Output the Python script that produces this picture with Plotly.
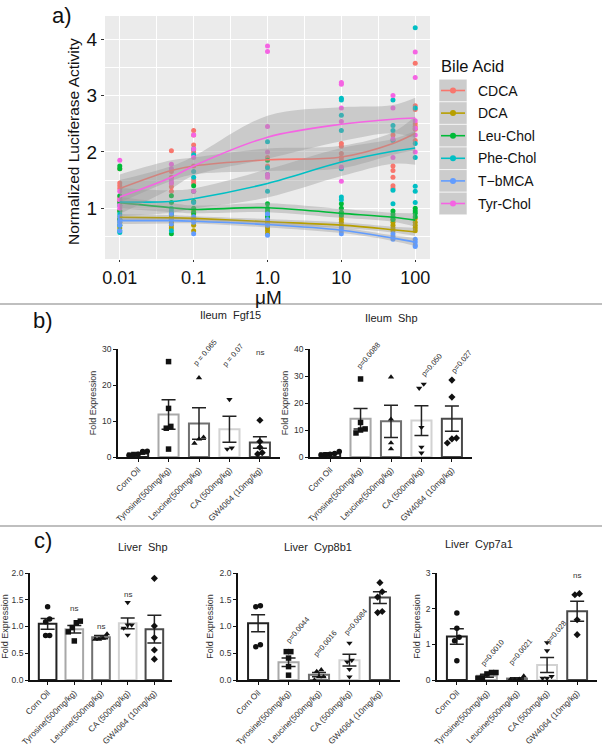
import plotly.graph_objects as go

W, H = 602, 750
FONT = 'Liberation Sans, Arial, Helvetica, sans-serif'

# ---------------- panel a: luciferase assay ----------------
conc = [0.01, 0.05, 0.1, 1, 10, 50, 100]
acids = ['CDCA', 'DCA', 'Leu-Chol', 'Phe-Chol', 'T\u2212bMCA', 'Tyr-Chol']
acid_colors = ['#F8766D', '#B79F00', '#00BA38', '#00BFC4', '#619CFF', '#F564E3']

# individual wells per concentration
cdca_pts = [[1.70, 1.45, 1.40, 1.35, 1.20, 1.15, 1.10], [2.02, 1.65, 1.55, 1.45, 1.38, 1.30],
            [2.38, 2.30, 2.12, 2.00, 1.75, 1.50, 1.45], [1.90, 1.75], [2.15, 2.10, 1.97, 1.90, 1.85],
            [2.30, 1.75, 1.67, 1.55, 1.40, 1.35], [3.57, 2.82, 2.75, 2.50, 2.45, 2.40, 2.20]]
dca_pts = [[0.95, 0.85, 0.80, 0.75, 0.70, 0.65], [0.90, 0.85, 0.80, 0.75, 0.70, 0.65],
           [0.95, 0.90, 0.80, 0.70, 0.60], [0.85, 0.80, 0.75, 0.70, 0.65, 0.60, 0.55],
           [0.92, 0.85, 0.80, 0.75, 0.70], [0.80, 0.75, 0.70, 0.65, 0.60], [0.82, 0.75, 0.70, 0.65, 0.60]]
leu_pts = [[1.75, 1.70, 1.22, 1.10, 0.95, 0.80], [1.22, 1.10, 0.90, 0.55], [1.40, 1.30, 1.12, 1.00, 0.92],
           [1.85, 1.08, 1.00, 0.95, 0.85], [1.08, 1.00, 0.93, 0.88], [0.95, 0.90, 0.85, 0.80],
           [1.00, 0.95, 0.91, 0.85]]
phe_pts = [[1.05, 0.90, 0.70, 0.60, 0.57], [1.00, 0.95, 0.80, 0.60], [2.05, 1.95, 1.65, 1.55, 1.10],
           [2.18, 1.72, 1.60, 1.30, 0.90], [2.95, 2.92, 2.65, 2.38, 1.70, 1.20, 1.15],
           [2.92, 2.47, 2.38, 2.20, 1.32, 1.08], [4.20, 2.78, 2.15, 1.90, 1.39, 1.30, 1.10]]
tbmca_pts = [[0.85, 0.78, 0.75, 0.70, 0.60], [0.90, 0.80, 0.72], [0.85, 0.75, 0.55], [0.90, 0.80, 0.70, 0.52],
             [0.65, 0.60, 0.55], [0.55, 0.50, 0.45], [0.45, 0.40, 0.35, 0.32]]
tyr_pts = [[1.85, 1.30, 1.15, 1.05, 1.00], [1.78, 1.70, 1.50, 1.45], [2.30, 2.05, 1.90, 1.30],
           [3.88, 3.78, 2.45, 2.00, 1.60, 1.55], [3.23, 3.20, 2.78, 2.54, 1.73, 1.48],
           [3.00, 2.78, 2.23, 1.90], [3.77, 3.32, 2.55, 2.42, 2.30, 2.00]]

# loess fits and their confidence half-widths
cdca_fit = [1.35, 1.67, 1.75, 1.86, 1.91, 2.15, 2.33]
dca_fit = [0.84, 0.83, 0.82, 0.76, 0.70, 0.62, 0.58]
leu_fit = [1.10, 1.01, 0.98, 1.01, 0.91, 0.84, 0.79]
phe_fit = [1.11, 1.12, 1.17, 1.44, 1.82, 2.01, 2.07]
tbmca_fit = [0.78, 0.78, 0.77, 0.71, 0.61, 0.47, 0.40]
tyr_fit = [1.20, 1.55, 1.75, 2.26, 2.49, 2.58, 2.60]

cdca_se = [0.25, 0.18, 0.15, 0.20, 0.20, 0.20, 0.30]
dca_se = [0.06, 0.05, 0.04, 0.05, 0.05, 0.05, 0.07]
leu_se = [0.10, 0.08, 0.07, 0.08, 0.08, 0.08, 0.12]
phe_se = [0.25, 0.20, 0.18, 0.25, 0.25, 0.22, 0.30]
tbmca_se = [0.06, 0.05, 0.04, 0.05, 0.05, 0.05, 0.07]
tyr_se = [0.30, 0.20, 0.17, 0.38, 0.30, 0.25, 0.36]

all_pts = [cdca_pts, dca_pts, leu_pts, phe_pts, tbmca_pts, tyr_pts]
all_fit = [cdca_fit, dca_fit, leu_fit, phe_fit, tbmca_fit, tyr_fit]
all_se = [cdca_se, dca_se, leu_se, phe_se, tbmca_se, tyr_se]

# ---------------- panels b, c: qPCR ----------------
treatments = ['Corn Oil', 'Tyrosine(500mg/kg)', 'Leucine(500mg/kg)', 'CA (500mg/kg)', 'GW4064 (10mg/kg)']

fgf15_mean = [1.0, 11.8, 9.3, 7.7, 4.0]
fgf15_sem = [0.25, 4.1, 4.4, 3.6, 1.6]
fgf15_pts = [[1.6, 1.5, 0.75, 0.5, 0.6], [26.5, 13.5, 8.5, 8.0, 2.2], [22.0, 5.5, 5.0, 3.8],
             [16.0, 2.5, 2.2], [10.2, 4.3, 2.7, 1.2, 0.8]]
fgf15_notes = ['', 'p=0.030', 'p = 0.065', 'p = 0.07', 'ns']

ileum_shp_mean = [1.3, 14.2, 13.2, 13.5, 14.2]
ileum_shp_sem = [0.3, 3.8, 6.0, 5.5, 4.7]
ileum_shp_pts = [[2.0, 1.3, 1.0, 0.8, 0.7], [28.9, 12.8, 10.4, 10.0, 8.9], [29.6, 14.0, 5.2, 3.0],
                 [27.0, 25.5, 11.0, 3.7, 1.5], [28.5, 22.2, 7.0, 6.7, 5.2]]
ileum_shp_notes = ['', 'p=0.0088', 'p = 0.056', 'p=0.050', 'p=0.027']

liver_shp_mean = [1.05, 0.95, 0.80, 1.06, 0.95]
liver_shp_sem = [0.10, 0.07, 0.03, 0.10, 0.26]
liver_shp_pts = [[1.37, 1.14, 1.09, 0.83, 0.83], [1.10, 1.07, 0.98, 0.90, 0.73], [0.86, 0.78, 0.76, 0.76],
                 [1.45, 1.03, 1.03, 0.97, 0.84], [1.90, 1.01, 0.79, 0.56, 0.39]]
liver_shp_notes = ['', 'ns', 'ns', 'ns', 'ns']

cyp8b1_mean = [1.06, 0.33, 0.10, 0.37, 1.54]
cyp8b1_sem = [0.16, 0.08, 0.04, 0.11, 0.11]
cyp8b1_pts = [[1.39, 1.37, 0.66, 0.62], [0.53, 0.53, 0.41, 0.25, 0.09], [0.19, 0.16, 0.06, 0.06, 0.0],
              [0.69, 0.37, 0.34, 0.20, 0.06], [1.82, 1.65, 1.55, 1.28, 1.26]]
cyp8b1_notes = ['', 'p=0.0044', 'p=0.0016', 'p=0.0084', 'ns']

cyp7a1_mean = [1.22, 0.12, 0.04, 0.42, 1.93]
cyp7a1_sem = [0.22, 0.04, 0.02, 0.21, 0.28]
cyp7a1_pts = [[1.88, 1.45, 1.20, 1.10, 0.54], [0.21, 0.21, 0.17, 0.06, 0.05], [0.11, 0.02, 0.01, 0.01],
              [1.05, 0.82, 0.10, 0.05, 0.05], [2.42, 2.39, 1.69, 1.27]]
cyp7a1_notes = ['', 'p=0.0010', 'p=0.0021', 'p=0.028', 'ns']


def px(x):
    return x / W


def py(y):
    return 1 - y / H


fig = go.Figure()

# ---- panel a ----
for pts, col in zip(all_pts, acid_colors):
    xs, ys = [], []
    for c, vals in zip(conc, pts):
        xs += [c] * len(vals)
        ys += vals
    fig.add_trace(go.Scatter(x=xs, y=ys, mode='markers', marker=dict(color=col, size=5),
                             xaxis='x', yaxis='y', hoverinfo='skip'))

for fit, se, col in zip(all_fit, all_se, acid_colors):
    lo = [f - s for f, s in zip(fit, se)]
    hi = [f + s for f, s in zip(fit, se)]
    fig.add_trace(go.Scatter(x=conc, y=lo, mode='lines', line=dict(width=0, shape='spline'),
                             xaxis='x', yaxis='y', hoverinfo='skip'))
    fig.add_trace(go.Scatter(x=conc, y=hi, mode='lines', line=dict(width=0, shape='spline'),
                             fill='tonexty', fillcolor='rgba(153,153,153,0.4)',
                             xaxis='x', yaxis='y', hoverinfo='skip'))
    fig.add_trace(go.Scatter(x=conc, y=fit, mode='lines', line=dict(color=col, width=1.6, shape='spline'),
                             xaxis='x', yaxis='y', hoverinfo='skip'))

# ---- bar panels ----
outline = ['#222222', '#a8a8a8', '#707070', '#d2d2d2', '#4a4a4a']
symbols = ['circle', 'square', 'triangle-up', 'triangle-down', 'diamond']


def spread(vals, span, step=0.15):
    order = sorted(range(len(vals)), key=lambda i: vals[i])
    offs = [0.0] * len(vals)
    groups = []
    for i in order:
        if groups and vals[i] - vals[groups[-1][-1]] < 0.05 * span:
            groups[-1].append(i)
        else:
            groups.append([i])
    for g in groups:
        k = len(g)
        for j, i in enumerate(g):
            offs[i] = (j - (k - 1) / 2) * step
    return offs


panels = [
    # name, mean, sem, pts, notes, axis id, x px domain, y px domain, y max, dtick, fmt, note spots, title pos
    ('Ileum  Fgf15', fgf15_mean, fgf15_sem, fgf15_pts, fgf15_notes, 2, (118, 280), (349, 457), 30, 10, 'd',
     [None, (0.25, 31.3), (0.2, 29.1), (0.1, 28.3), (0, 28.9)], (198, 315)),
    ('Ileum  Shp', ileum_shp_mean, ileum_shp_sem, ileum_shp_pts, ileum_shp_notes, 3, (310, 472), (349, 457), 40, 10,
     'd', [None, (0.27, 37.5), (0.3, 41.5), (0.32, 34.0), (0.32, 35.3)], (391, 318)),
    ('Liver  Shp', liver_shp_mean, liver_shp_sem, liver_shp_pts, liver_shp_notes, 4, (30, 172), (573, 680), 2, 0.5,
     '.1f', [None, (0, 1.33), (0, 1.0), (0, 1.6), (0, 2.02)], (116, 555)),
    ('Liver  Cyp8b1', cyp8b1_mean, cyp8b1_sem, cyp8b1_pts, cyp8b1_notes, 5, (238, 400), (573, 680), 2, 0.5, '.1f',
     [None, (0.32, 0.94), (0.2, 0.69), (0.22, 1.09), (0, 2.03)], (318, 555)),
    ('Liver  Cyp7a1', cyp7a1_mean, cyp7a1_sem, cyp7a1_pts, cyp7a1_notes, 6, (437, 597), (573, 680), 3, 1, 'd',
     [None, (0.2, 0.76), (0.13, 0.79), (0.3, 1.32), (0, 2.93)], (515, 552)),
]

annotations = []
layout_axes = {}
idx = list(range(len(treatments)))

for (title, mean, sem, pts, notes, k, xd, yd, ymax, dt, fmt, spots, tpos) in panels:
    xa, ya = 'x%d' % k, 'y%d' % k
    fig.add_trace(go.Bar(x=idx, y=mean, width=0.66, xaxis=xa, yaxis=ya,
                         marker=dict(color='white', line=dict(color=outline, width=2)),
                         error_y=dict(type='data', array=sem, color='#222', thickness=1.5, width=7),
                         hoverinfo='skip'))
    for i, vals in enumerate(pts):
        offs = spread(vals, ymax)
        fig.add_trace(go.Scatter(x=[i + o for o in offs], y=vals, mode='markers', xaxis=xa, yaxis=ya,
                                 marker=dict(symbol=symbols[i], color='#111', size=5.5),
                                 cliponaxis=False, hoverinfo='skip'))
    for i, (txt, spot) in enumerate(zip(notes, spots)):
        if not txt:
            continue
        annotations.append(dict(x=i + spot[0], y=spot[1], xref=xa, yref=ya, text=txt, showarrow=False,
                                textangle=0 if txt == 'ns' else -50, xanchor='center', yanchor='middle',
                                font=dict(size=8 if txt == 'ns' else 7.5, color='#333', family=FONT)))
    annotations.append(dict(x=px(tpos[0]), y=py(tpos[1]), xref='paper', yref='paper', text=title,
                            showarrow=False, font=dict(size=11, color='#222', family=FONT)))
    xk = 'xaxis%d' % k
    yk = 'yaxis%d' % k
    layout_axes[xk] = dict(domain=[px(xd[0]), px(xd[1])], anchor=ya, range=[-0.66, 4.66], automargin=False,
                           tickvals=idx, ticktext=treatments, tickangle=-45,
                           tickfont=dict(size=8.3, color='#333', family=FONT),
                           showline=True, linecolor='#111', linewidth=1.8, ticks='outside', ticklen=3,
                           tickcolor='#111', showgrid=False, zeroline=False)
    layout_axes[yk] = dict(domain=[py(yd[1]), py(yd[0])], anchor=xa, range=[0, ymax], dtick=dt, tick0=0,
                           automargin=False,
                           tickformat=fmt, tickfont=dict(size=8.5, color='#333', family=FONT),
                           showline=True, linecolor='#111', linewidth=1.8, ticks='outside', ticklen=3,
                           tickcolor='#111', showgrid=False, zeroline=False,
                           title=dict(text='Fold Expression', font=dict(size=9, color='#333', family=FONT),
                                      standoff=4))

# ---- legend of panel a (drawn by hand, ggplot style keys) ----
shapes = [
    dict(type='rect', xref='x domain', yref='y domain', x0=0, x1=1, y0=0, y1=1,
         fillcolor='#EBEBEB', line=dict(width=0), layer='below'),
    dict(type='line', xref='paper', yref='paper', x0=0, x1=1, y0=py(304), y1=py(304),
         line=dict(color='#808080', width=1.2)),
    dict(type='line', xref='paper', yref='paper', x0=0, x1=1, y0=py(526), y1=py(526),
         line=dict(color='#808080', width=1.2)),
]
annotations.append(dict(x=px(439), y=py(66), xref='paper', yref='paper', text='Bile Acid', showarrow=False,
                        xanchor='left', yanchor='middle', font=dict(size=16.5, color='#111', family=FONT)))
for i, (name, col) in enumerate(zip(acids, acid_colors)):
    yc = 90.5 + 22.6 * i
    shapes.append(dict(type='rect', xref='paper', yref='paper', x0=px(439), x1=px(467),
                       y0=py(yc + 11.3), y1=py(yc - 11.3), fillcolor='#CCCCCC',
                       line=dict(color='white', width=0.6)))
    shapes.append(dict(type='line', xref='paper', yref='paper', x0=px(441), x1=px(465), y0=py(yc), y1=py(yc),
                       line=dict(color=col, width=1.6)))
    shapes.append(dict(type='circle', xref='paper', yref='paper', x0=px(450), x1=px(456),
                       y0=py(yc + 3), y1=py(yc - 3), fillcolor=col, line=dict(width=0)))
    annotations.append(dict(x=px(476), y=py(yc), xref='paper', yref='paper', text=name, showarrow=False,
                            xanchor='left', yanchor='middle', font=dict(size=14, color='#111', family=FONT)))

for lab, (lx, ly) in zip(['a)', 'b)', 'c)'], [(62, 16), (43, 320), (43, 540)]):
    annotations.append(dict(x=px(lx), y=py(ly), xref='paper', yref='paper', text=lab, showarrow=False,
                            xanchor='center', yanchor='middle', font=dict(size=22, color='#111', family=FONT)))

# axis titles of panel a placed like the ggplot output
annotations.append(dict(x=px(268), y=py(297), xref='paper', yref='paper', text='\u03bcM', showarrow=False,
                        xanchor='center', yanchor='middle', borderpad=0,
                        font=dict(size=19, color='#111', family=FONT)))
annotations.append(dict(x=px(73), y=py(142), xref='paper', yref='paper', text='Normalized Luciferase Activity',
                        showarrow=False, textangle=-90, xanchor='center', yanchor='middle',
                        font=dict(size=15.5, color='#111', family=FONT)))

fig.update_layout(
    width=W, height=H, margin=dict(l=0, r=0, t=0, b=0, autoexpand=False),
    paper_bgcolor='white', plot_bgcolor='rgba(0,0,0,0)', showlegend=False,
    font=dict(family=FONT),
    xaxis=dict(domain=[px(105), px(430)], anchor='y', type='log', range=[-2.2, 2.2], automargin=False,
               tickvals=[0.01, 0.1, 1, 10, 100], ticktext=['0.01', '0.1', '1.0', '10', '100'],
               tickfont=dict(size=18, color='#111'), ticks='outside', ticklen=2, tickcolor='#333',
               showgrid=True, gridcolor='white', gridwidth=1.1, zeroline=False,
               minor=dict(tickvals=[10 ** -1.5, 10 ** -0.5, 10 ** 0.5, 10 ** 1.5], showgrid=True,
                          gridcolor='white', gridwidth=0.5, ticks='')),
    yaxis=dict(domain=[py(259), py(16)], anchor='x', range=[0.1, 4.41], tickvals=[1, 2, 3, 4], automargin=False,
               tickfont=dict(size=19, color='#111'), ticks='outside', ticklen=3, tickcolor='#333',
               showgrid=True, gridcolor='white', gridwidth=1.1, zeroline=False,
               minor=dict(tickvals=[0.5, 1.5, 2.5, 3.5], showgrid=True, gridcolor='white', gridwidth=0.5,
                          ticks='')),
    shapes=shapes,
    annotations=annotations,
    **layout_axes,
)

# the page body has a default margin; drop it so the figure sits at the window origin
fig.write_html('out.html', config={'displayModeBar': False},
               post_script="document.body.style.margin='0';")
